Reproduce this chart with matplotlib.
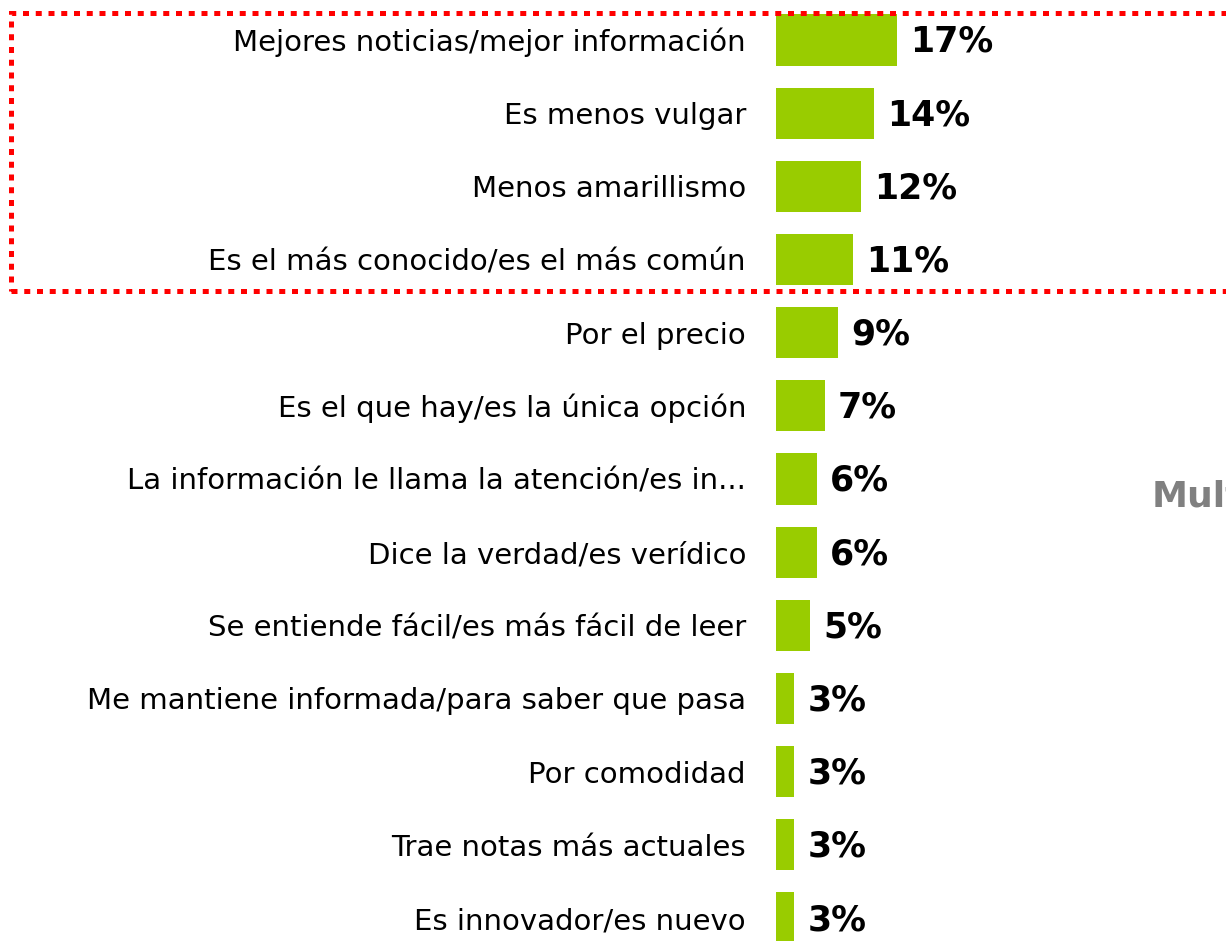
import matplotlib
matplotlib.use("Agg")
import matplotlib.pyplot as plt
from matplotlib.patches import Rectangle

plt.rcParams['font.family'] = ['DejaVu Sans']

# razones de preferencia (de arriba hacia abajo)
categorias = [
    "Mejores noticias/mejor información",
    "Es menos vulgar",
    "Menos amarillismo",
    "Es el más conocido/es el más común",
    "Por el precio",
    "Es el que hay/es la única opción",
    "La información le llama la atención/es in...",
    "Dice la verdad/es verídico",
    "Se entiende fácil/es más fácil de leer",
    "Me mantiene informada/para saber que pasa",
    "Por comodidad",
    "Trae notas más actuales",
    "Es innovador/es nuevo",
]
valores = [17.0, 13.8, 12.0, 10.8, 8.7, 6.9, 5.8, 5.8, 4.8, 2.6, 2.6, 2.6, 2.6]
etiquetas = [f"{round(v)}%" for v in valores]

W, H = 1226, 941
fig = plt.figure(figsize=(W / 100, H / 100), dpi=100)

# eje: x=0 en px 776, 7.1 px por punto; filas cada 73.2 px desde y=40
x0 = 776
ppu = 7.1
ax = fig.add_axes([x0 / W, 0, 1 - x0 / W, 1])
ax.set_xlim(0, (W - x0) / ppu)
paso = 73.17
ax.set_ylim(12 + (H - 918) / paso, -40 / paso)
ax.axis("off")

y = list(range(len(categorias)))
ax.barh(y, valores, height=0.7, color="#99cc00", edgecolor="none")

# línea fina a la izquierda de cada barra
ax.vlines([-0.3] * len(y), [i - 0.35 for i in y], [i + 0.35 for i in y],
          color="#d0d9ac", linewidth=1.3)

for i, (v, t, c) in enumerate(zip(valores, etiquetas, categorias)):
    ax.text(v + 13 / ppu, i + 12 / paso, t, ha="left", va="baseline",
            fontsize=25, fontweight="bold", color="black")
    ax.text(-30 / ppu, i + 11 / paso, c, ha="right", va="baseline",
            fontsize=21, color="black", clip_on=False)

# recuadro punteado rojo alrededor de los 4 primeros
rect = Rectangle((11 / W, 1 - 291 / H), 1.2, (291 - 13) / H,
                 transform=fig.transFigure, fill=False, edgecolor="#ff0000",
                 linewidth=3.6, linestyle=(0, (1.2, 1.35)), clip_on=False)
rect.set_capstyle("butt")
fig.patches.append(rect)

# texto lateral cortado por el borde, como en el original
fig.text(1152 / W, 1 - 507 / H, "Multimención", ha="left", va="baseline",
         fontsize=26, fontweight="bold", color="#808080")

fig.savefig("out.png", dpi=100)
